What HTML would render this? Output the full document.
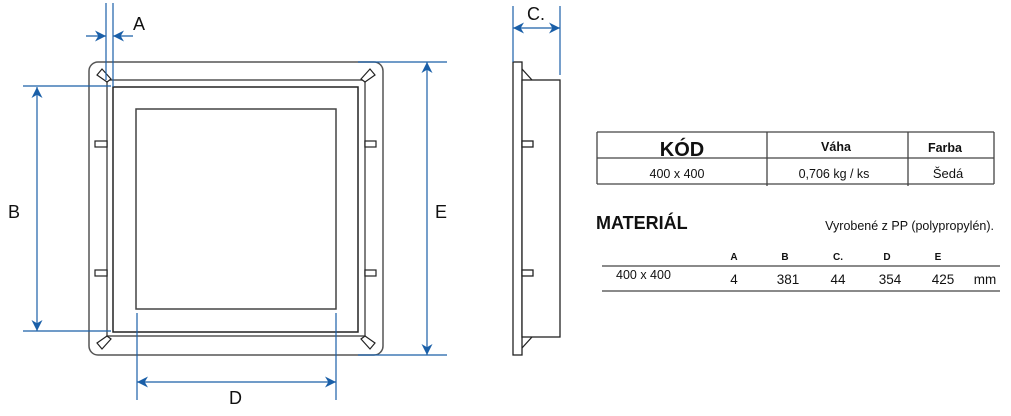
<!DOCTYPE html>
<html><head><meta charset="utf-8"><style>
body{margin:0;background:#fff}
svg text{font-family:"Liberation Sans",sans-serif}
</style></head><body>
<svg width="1011" height="411" viewBox="0 0 1011 411" xmlns="http://www.w3.org/2000/svg">
<defs>
<marker id="ar" viewBox="0 0 10 10" refX="10" refY="5" markerWidth="12" markerHeight="11" orient="auto-start-reverse" markerUnits="userSpaceOnUse"><path d="M0,0 L10,5 L0,10 L3,5 z" fill="#1a5fa8"/></marker>
</defs>
<g fill="none" stroke-width="1.5">
<rect x="89" y="62" width="294" height="293" rx="9" stroke="#555"/>
<rect x="107" y="80" width="258" height="256" stroke="#555"/>
<rect x="113" y="87" width="245" height="245" stroke="#222"/>
<rect x="136" y="109" width="200" height="200" stroke="#444"/>
</g>
<g fill="#fff" stroke="#222" stroke-width="1.2">
<rect x="95" y="141" width="12" height="6"/><rect x="95" y="270" width="12" height="6"/>
<rect x="365" y="141" width="11" height="6"/><rect x="365" y="270" width="11" height="6"/>
<path d="M97,75 L102,69 L111,79 L107,82 z"/>
<path d="M375,75 L370,69 L361,79 L365,82 z"/>
<path d="M97,343 L102,349 L111,339 L107,336 z"/>
<path d="M375,343 L370,349 L361,339 L365,336 z"/>
</g>
<g fill="#fff" stroke="#222" stroke-width="1.3">
<rect x="513" y="62" width="9" height="293"/>
<rect x="522" y="80" width="38" height="257"/>
<rect x="522" y="141" width="11" height="6"/><rect x="522" y="270" width="11" height="6"/>
<path d="M522,69 L532,80 M522,348 L532,337"/>
</g>
<g stroke="#1a5fa8" stroke-width="1.2" fill="none">
<line x1="106" y1="3" x2="106" y2="80"/><line x1="113" y1="3" x2="113" y2="87"/>
<line x1="86" y1="36" x2="106" y2="36" marker-end="url(#ar)"/>
<line x1="133" y1="36" x2="113" y2="36" marker-end="url(#ar)"/>
<line x1="23" y1="86" x2="111" y2="86"/><line x1="23" y1="331" x2="111" y2="331"/>
<line x1="37" y1="87" x2="37" y2="331" marker-start="url(#ar)" marker-end="url(#ar)"/>
<line x1="358" y1="62" x2="447" y2="62"/><line x1="358" y1="355" x2="447" y2="355"/>
<line x1="427" y1="62" x2="427" y2="355" marker-start="url(#ar)" marker-end="url(#ar)"/>
<line x1="137" y1="313" x2="137" y2="400"/><line x1="336" y1="313" x2="336" y2="400"/>
<line x1="137" y1="382" x2="336" y2="382" marker-start="url(#ar)" marker-end="url(#ar)"/>
<line x1="513" y1="6" x2="513" y2="62"/><line x1="560" y1="6" x2="560" y2="75"/>
<line x1="513" y1="28" x2="560" y2="28" marker-start="url(#ar)" marker-end="url(#ar)"/>
</g>
<g font-size="18" fill="#111">
<text x="133" y="30">A</text>
<text x="8" y="218">B</text>
<text x="435" y="218">E</text>
<text x="229" y="404">D</text>
<text x="527" y="20">C.</text>
</g>
<g stroke="#444" stroke-width="1.3">
<line x1="597" y1="132" x2="994" y2="132"/>
<line x1="597" y1="158" x2="994" y2="158"/>
<line x1="597" y1="184" x2="994" y2="184"/>
<line x1="597" y1="132" x2="597" y2="184"/>
<line x1="767" y1="132" x2="767" y2="186"/>
<line x1="908" y1="132" x2="908" y2="186"/>
<line x1="994" y1="132" x2="994" y2="184"/>
<line x1="602" y1="266" x2="1000" y2="266"/>
<line x1="602" y1="291" x2="1000" y2="291"/>
</g>
<g fill="#111">
<text x="682" y="156" font-size="20" font-weight="bold" text-anchor="middle">KÓD</text>
<text x="836" y="151" font-size="12.5" font-weight="bold" text-anchor="middle">Váha</text>
<text x="945" y="152" font-size="12.5" font-weight="bold" text-anchor="middle">Farba</text>
<text x="677" y="178" font-size="12.5" text-anchor="middle">400 x 400</text>
<text x="834" y="178" font-size="12.5" text-anchor="middle">0,706 kg / ks</text>
<text x="948" y="178" font-size="13" text-anchor="middle">Šedá</text>
<text x="596" y="229" font-size="18" font-weight="bold">MATERIÁL</text>
<text x="994" y="230" font-size="12.5" text-anchor="end">Vyrobené z PP (polypropylén).</text>
<g font-size="10" font-weight="bold" text-anchor="middle">
<text x="734" y="260">A</text><text x="785" y="260">B</text><text x="838" y="260">C.</text><text x="887" y="260">D</text><text x="938" y="260">E</text>
</g>
<text x="616" y="279" font-size="12.5">400 x 400</text>
<g font-size="13.5" text-anchor="middle">
<text x="734" y="284">4</text><text x="788" y="284">381</text><text x="838" y="284">44</text><text x="890" y="284">354</text><text x="943" y="284">425</text><text x="985" y="284">mm</text>
</g>
</g>
</svg>
</body></html>
